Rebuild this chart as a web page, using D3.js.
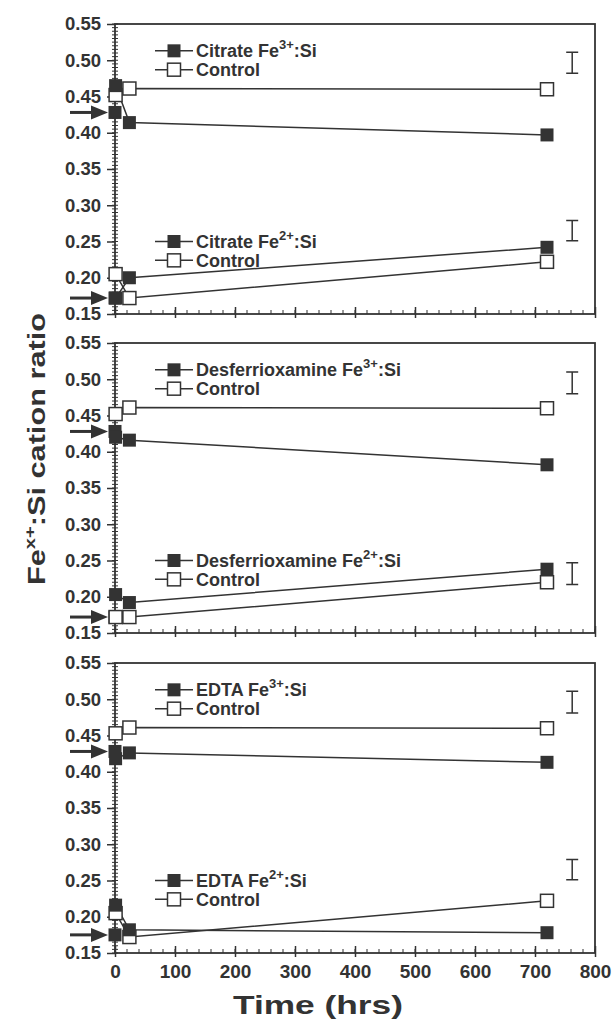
<!DOCTYPE html>
<html>
<head>
<meta charset="utf-8">
<script src="https://cdn.jsdelivr.net/npm/d3@7"></script>
<style>
  body { margin: 0; background: #fff; }
  svg text { font-family: "Liberation Sans", Arial, sans-serif; font-weight: bold; fill: #333; }
</style>
</head>
<body>
<svg width="614" height="1028"></svg>
<script>
// values
const panelNames = ["Citrate", "Desferrioxamine", "EDTA"];
const times = [1, 24, 720];
const fe3Treated = [[0.465, 0.414, 0.397], [0.420, 0.416, 0.382], [0.418, 0.426, 0.413]];
const fe3Control = [[0.452, 0.461, 0.460], [0.452, 0.461, 0.460], [0.453, 0.461, 0.460]];
const fe2Treated = [[0.172, 0.200, 0.242], [0.203, 0.192, 0.238], [0.216, 0.182, 0.178]];
const fe2Control = [[0.205, 0.172, 0.222], [0.172, 0.172, 0.220], [0.205, 0.172, 0.222]];
const fe3Initial = [0.428, 0.428, 0.428];
const fe2Initial = [0.172, 0.172, 0.175];
const errTime = 762;
const fe3Err = [[0.4965, 0.0145], [0.495, 0.015], [0.496, 0.015]];
const fe2Err = [[0.265, 0.014], [0.232, 0.015], [0.265, 0.014]];
const yTicks = [0.15, 0.20, 0.25, 0.30, 0.35, 0.40, 0.45, 0.50, 0.55];
const xTicks = [0, 100, 200, 300, 400, 500, 600, 700, 800];

const svg = d3.select("svg");
const ink = "#333";
const panelTops = [24, 343, 663],
      panelH = 290;

const x = d3.scaleLinear().domain([0, 800]).range([115, 595]);

panelTops.forEach((top, p) => {
  const y = d3.scaleLinear().domain([0.15, 0.55]).range([top + panelH, top]);
  const g = svg.append("g");

  // frame
  g.append("rect")
      .attr("x", x(0)).attr("y", y(0.55))
      .attr("width", x(800) - x(0)).attr("height", y(0.15) - y(0.55))
      .attr("fill", "none").attr("stroke", ink).attr("stroke-width", 1.8);

  // y minor ticks
  g.append("g").selectAll("line")
    .data(d3.range(0.15, 0.5501, 0.005))
    .join("line")
      .attr("x1", x(0) - 3).attr("x2", x(0) + 3)
      .attr("y1", d => y(d)).attr("y2", d => y(d))
      .attr("stroke", ink).attr("stroke-width", 1);

  // y axis
  const yAxis = g.append("g")
      .attr("transform", `translate(${x(0)},0)`)
      .call(d3.axisLeft(y).tickValues(yTicks).tickFormat(d3.format(".2f")).tickSize(8).tickPadding(6));
  yAxis.select(".domain").remove();
  yAxis.selectAll("line").attr("stroke", ink).attr("stroke-width", 1.5);
  yAxis.selectAll("text").attr("font-size", 18.5).attr("fill", ink)
      .attr("font-family", "Liberation Sans, Arial, sans-serif").attr("font-weight", "bold");

  // x minor ticks
  g.append("g").selectAll("line")
    .data(d3.range(0, 801, 20))
    .join("line")
      .attr("x1", d => x(d)).attr("x2", d => x(d))
      .attr("y1", y(0.15)).attr("y2", y(0.15) - 4)
      .attr("stroke", ink).attr("stroke-width", 1);

  // x axis
  const xAxis = g.append("g")
      .attr("transform", `translate(0,${y(0.15)})`)
      .call(d3.axisBottom(x).tickValues(xTicks).tickSizeInner(-7).tickSizeOuter(0).tickPadding(12));
  xAxis.select(".domain").remove();
  xAxis.selectAll("line").attr("stroke", ink).attr("stroke-width", 1.5)
      .attr("y1", 4);
  xAxis.selectAll("text").attr("font-size", 19).attr("fill", ink)
      .attr("font-family", "Liberation Sans, Arial, sans-serif").attr("font-weight", "bold")
      .style("display", p === 2 ? null : "none");

  const line = d3.line().x(d => x(d[0])).y(d => y(d[1]));

  const series = [
    { vals: fe3Control[p], filled: false },
    { vals: fe2Control[p], filled: false },
    { vals: fe3Treated[p], filled: true },
    { vals: fe2Treated[p], filled: true }
  ];

  series.forEach(s => {
    const pts = times.map((t, i) => [t, s.vals[i]]);
    g.append("path")
        .attr("d", line(pts))
        .attr("fill", "none").attr("stroke", ink).attr("stroke-width", 1.5);
  });

  // initial composition markers with arrows
  [fe3Initial[p], fe2Initial[p]].forEach(v => {
    g.append("line")
        .attr("x1", 70).attr("x2", x(0) - 16)
        .attr("y1", y(v)).attr("y2", y(v))
        .attr("stroke", ink).attr("stroke-width", 3);
    g.append("path")
        .attr("d", `M${x(0) - 7},${y(v)} L${x(0) - 24},${y(v) - 7} L${x(0) - 24},${y(v) + 7} Z`)
        .attr("fill", ink);
    g.append("rect")
        .attr("x", x(0) - 6.5).attr("y", y(v) - 6.5)
        .attr("width", 13).attr("height", 13)
        .attr("fill", ink);
  });

  series.forEach(s => {
    g.append("g").selectAll("rect")
      .data(times.map((t, i) => [t, s.vals[i]]))
      .join("rect")
        .attr("x", d => x(d[0]) - 6.5).attr("y", d => y(d[1]) - 6.5)
        .attr("width", 13).attr("height", 13)
        .attr("fill", s.filled ? ink : "#fff")
        .attr("stroke", ink).attr("stroke-width", s.filled ? 0 : 1.5);
  });

  // error bars
  [fe3Err[p], fe2Err[p]].forEach(([c, h]) => {
    const ex = x(errTime);
    g.append("path")
        .attr("d", `M${ex},${y(c + h)} V${y(c - h)} M${ex - 6},${y(c + h)} H${ex + 6} M${ex - 6},${y(c - h)} H${ex + 6}`)
        .attr("fill", "none").attr("stroke", ink).attr("stroke-width", 1.5);
  });

  // legends
  const legends = [
    { v: 0.513, filled: true, ion: "3+", label: panelNames[p] },
    { v: 0.487, filled: false, label: "Control" },
    { v: 0.250, filled: true, ion: "2+", label: panelNames[p] },
    { v: 0.224, filled: false, label: "Control" }
  ];
  legends.forEach(l => {
    const ly = y(l.v);
    g.append("line")
        .attr("x1", 155).attr("x2", 193).attr("y1", ly).attr("y2", ly)
        .attr("stroke", ink).attr("stroke-width", 1.5);
    g.append("rect")
        .attr("x", 167.5).attr("y", ly - 6.5).attr("width", 13).attr("height", 13)
        .attr("fill", l.filled ? ink : "#fff")
        .attr("stroke", ink).attr("stroke-width", l.filled ? 0 : 1.5);
    const t = g.append("text")
        .attr("x", 196).attr("y", ly + 6.5)
        .attr("font-size", 18);
    if (l.ion) {
      t.append("tspan").text(l.label + " Fe");
      t.append("tspan").attr("dy", -8).attr("font-size", 13).text(l.ion);
      t.append("tspan").attr("dy", 8).text(":Si");
    } else {
      t.text(l.label);
    }
  });
});

// axis titles
svg.append("text")
    .attr("x", 318).attr("y", 1014)
    .attr("text-anchor", "middle").attr("font-size", 26)
    .attr("textLength", 170).attr("lengthAdjust", "spacingAndGlyphs")
    .text("Time (hrs)");

const yl = svg.append("text")
    .attr("transform", "translate(45,449) rotate(-90)")
    .attr("text-anchor", "middle").attr("font-size", 23)
    .attr("textLength", 272).attr("lengthAdjust", "spacingAndGlyphs");
yl.append("tspan").text("Fe");
yl.append("tspan").attr("dy", -10).attr("font-size", 15).text("x+");
yl.append("tspan").attr("dy", 10).text(":Si cation ratio");
</script>
</body>
</html>
